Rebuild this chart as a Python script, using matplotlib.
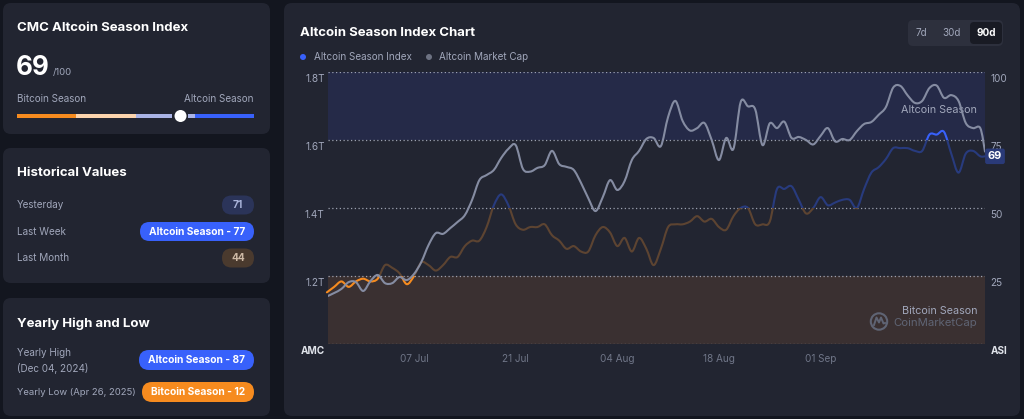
import numpy as np
import pandas as pd
import matplotlib
matplotlib.use("Agg")
import matplotlib.pyplot as plt
import matplotlib.dates as mdates
from matplotlib.patches import FancyBboxPatch, PathPatch, Rectangle, Circle
from matplotlib.path import Path
from matplotlib.transforms import ScaledTranslation, blended_transform_factory

plt.rcParams['font.family'] = ['Inter', 'DejaVu Sans']

# -----------------------------
# Data
# -----------------------------
dates = list(pd.date_range("2025-06-25", "2025-09-23", freq="D")) + [pd.Timestamp("2025-09-23 15:36")]

# Altcoin Season Index (0-100)
asi = [19, 21, 23, 21, 23, 24, 23, 24, 29, 28,
       26, 22, 25, 30, 29, 27, 29, 32, 32, 36,
       38, 38, 43, 51, 55, 51, 44, 42, 43, 43,
       44, 40, 38, 35, 36, 34, 34, 40, 43, 41,
       36, 39, 34, 39, 35, 29, 35, 43, 44, 44,
       45, 47, 45, 46, 43, 42, 47, 50, 50, 44,
       44, 45, 57, 57, 58, 53, 48, 50, 54, 51,
       52, 53, 53, 50, 57, 63, 65, 68, 72, 72,
       72, 71, 71, 77, 77, 78, 70, 63, 70, 71,
       69, 69]

# Altcoin market cap (trillion USD)
amc = [1.140, 1.150, 1.162, 1.182, 1.182, 1.156, 1.185, 1.203, 1.179, 1.179,
       1.197, 1.188, 1.206, 1.241, 1.291, 1.326, 1.324, 1.341, 1.359, 1.379,
       1.424, 1.482, 1.497, 1.512, 1.547, 1.574, 1.585, 1.515, 1.507, 1.518,
       1.526, 1.568, 1.529, 1.521, 1.512, 1.474, 1.429, 1.391, 1.432, 1.482,
       1.453, 1.479, 1.541, 1.568, 1.603, 1.606, 1.582, 1.668, 1.715, 1.656,
       1.628, 1.635, 1.650, 1.600, 1.541, 1.606, 1.574, 1.712, 1.699, 1.690,
       1.585, 1.649, 1.635, 1.654, 1.606, 1.609, 1.600, 1.587, 1.612, 1.635,
       1.596, 1.603, 1.600, 1.626, 1.647, 1.653, 1.674, 1.697, 1.754, 1.759,
       1.731, 1.709, 1.715, 1.753, 1.760, 1.724, 1.732, 1.715, 1.650, 1.635,
       1.635, 1.566]

tick_dates = ["2025-07-07", "2025-07-21", "2025-08-04", "2025-08-18", "2025-09-01"]
tick_labels = ["07 Jul", "21 Jul", "04 Aug", "18 Aug", "01 Sep"]

current = 69
history_labels = ["Yesterday", "Last Week", "Last Month"]
history_values = [71, 77, 44]
yearly_high = 87
yearly_low = 12

# -----------------------------
# Colours
# -----------------------------
BG = "#13161f"
CARD = "#222531"
WHITE = "#ffffff"
GRAY = "#a1a7bb"
GRAY_DIM = "#6f7587"
ORANGE = "#f68b1f"
BLUE = "#3861fb"
BAND_BLUE = "#252a48"
BAND_BROWN = "#3a3031"
LINE_BROWN = "#5d4431"
LINE_NAVY = "#283b7e"
LINE_GRAY = "#858ca2"


def fs(px):
    # pixel size -> points at 100 dpi
    return px * 0.72


def smooth_path(x, y):
    # catmull-rom through the data points, drawn as bezier curves
    pts = np.column_stack([x, y])
    ext = np.vstack([pts[0], pts, pts[-1]])
    verts = [pts[0]]
    codes = [Path.MOVETO]
    for i in range(len(pts) - 1):
        p0, p1, p2, p3 = ext[i], ext[i + 1], ext[i + 2], ext[i + 3]
        verts += [p1 + (p2 - p0) / 6, p2 - (p3 - p1) / 6, p2]
        codes += [Path.CURVE4] * 3
    return Path(verts, codes)


fig = plt.figure(figsize=(10.24, 4.19), dpi=100)
fig.patch.set_facecolor(BG)

bg = fig.add_axes([0, 0, 1, 1])
bg.set_xlim(0, 1024)
bg.set_ylim(419, 0)
bg.axis("off")


def card(x0, y0, x1, y1):
    bg.add_patch(FancyBboxPatch((x0, y0), x1 - x0, y1 - y0,
                                boxstyle="round,pad=0,rounding_size=8",
                                fc=CARD, ec="none"))


def pill(x0, x1, yc, h, fc, text, tc):
    bg.add_patch(FancyBboxPatch((x0, yc - h / 2), x1 - x0, h,
                                boxstyle=f"round,pad=0,rounding_size={h / 2}",
                                fc=fc, ec="none"))
    bg.text((x0 + x1) / 2, yc, text, color=tc, fontsize=fs(10.2),
            fontweight="bold", ha="center", va="center")


def label_for(v):
    if v >= 75:
        return BLUE, f"Altcoin Season - {v}", WHITE
    if v <= 25:
        return ORANGE, f"Bitcoin Season - {v}", WHITE
    if v >= 50:
        return "#2b3459", str(v), "#a9b3da"
    return "#4a3a2e", str(v), "#cdb9a5"


BODY = fs(9.9)

# cards
card(3, 3, 270, 134)
card(3, 148, 270, 283)
card(3, 298, 270, 416)
card(284, 3, 1020, 416)

# --- card 1: current index
bg.text(17, 28, "CMC Altcoin Season Index", color=WHITE, fontsize=fs(13.2),
        fontweight="bold", va="center")
bg.text(16, 68, str(current), color=WHITE, fontsize=fs(26), fontweight="bold", va="center")
bg.text(53, 73, "/100", color=GRAY, fontsize=fs(9.5), va="center")
bg.text(17, 99, "Bitcoin Season", color=GRAY, fontsize=BODY, va="center")
bg.text(254, 99, "Altcoin Season", color=GRAY, fontsize=BODY, va="center", ha="right")


def bar_x(v):
    return 17 + v / 100 * 237


segments = [(0, 25, ORANGE), (25, 50, "#fcd4ad"), (50, current - 3.5, "#aab4e6"),
            (current + 3.3, 75, "#aab4e6"), (75, 100, BLUE)]
for a, b, c in segments:
    bg.plot([bar_x(a), bar_x(b)], [116, 116], color=c, lw=fs(4), solid_capstyle="butt")
bg.add_patch(Circle((bar_x(current), 116), 6, fc=WHITE, ec="none", zorder=5))

# --- card 2: historical values
bg.text(17, 173, "Historical Values", color=WHITE, fontsize=fs(13.2),
        fontweight="bold", va="center")
for i, (lab, v) in enumerate(zip(history_labels, history_values)):
    yc = 205 + i * 26.5
    bg.text(17, yc, lab, color=GRAY, fontsize=BODY, va="center")
    fc, txt, tc = label_for(v)
    w = 32 if len(txt) < 4 else 114
    pill(254 - w, 254, yc, 19, fc, txt, tc)

# --- card 3: yearly high / low
bg.text(17, 324, "Yearly High and Low", color=WHITE, fontsize=fs(13.2),
        fontweight="bold", va="center")
bg.text(17, 353, "Yearly High", color=GRAY, fontsize=BODY, va="center")
bg.text(17, 368, "(Dec 04, 2024)", color=GRAY, fontsize=BODY, va="center")
fc, txt, tc = label_for(yearly_high)
pill(139, 254, 360, 20, fc, txt, tc)
bg.text(17, 392, "Yearly Low (Apr 26, 2025)", color=GRAY, fontsize=fs(9.5), va="center")
fc, txt, tc = label_for(yearly_low)
pill(142, 254, 392, 20, fc, txt, tc)

# --- main card header
bg.text(300, 33, "Altcoin Season Index Chart", color=WHITE, fontsize=fs(13.2),
        fontweight="bold", va="center")
bg.add_patch(Circle((303, 57), 3, fc=BLUE, ec="none"))
bg.text(314, 57, "Altcoin Season Index", color=GRAY, fontsize=BODY, va="center")
bg.add_patch(Circle((429, 57), 3, fc="#6d7282", ec="none"))
bg.text(439, 57, "Altcoin Market Cap", color=GRAY, fontsize=BODY, va="center")

bg.add_patch(FancyBboxPatch((908, 20), 95, 26, boxstyle="round,pad=0,rounding_size=5",
                            fc="#2d303d", ec="none"))
bg.add_patch(FancyBboxPatch((970, 22), 32, 22, boxstyle="round,pad=0,rounding_size=4",
                            fc="#191b24", ec="none"))
bg.text(921, 33, "7d", color=GRAY, fontsize=BODY, ha="center", va="center")
bg.text(952, 33, "30d", color=GRAY, fontsize=BODY, ha="center", va="center")
bg.text(986, 33, "90d", color=WHITE, fontsize=BODY, fontweight="bold",
        ha="center", va="center")

# -----------------------------
# Plot area
# -----------------------------
ax = fig.add_axes([328 / 1024, 1 - 344 / 419, 657 / 1024, 272 / 419])
ax.patch.set_visible(False)
ax2 = ax.twinx()
ax2.patch.set_visible(False)

xn = mdates.date2num(pd.to_datetime(dates).to_pydatetime())
x_left = xn[0] + 0.15
x_right = xn[-1]

ax.axhspan(75, 100, color=BAND_BLUE, lw=0, zorder=0)
ax.axhspan(0, 25, color=BAND_BROWN, lw=0, zorder=0)
for g in [0, 25, 50, 75, 100]:
    ax.axhline(g, color="#9ca1b0", lw=0.9, ls=(0, (1, 2)), zorder=1)

# ASI line, coloured by zone
asi_path = smooth_path(xn, np.array(asi, float))
zones = [(-50, 25, ORANGE), (25, 50, LINE_BROWN), (50, 75, LINE_NAVY), (75, 200, BLUE)]
for lo, hi, c in zones:
    pp = PathPatch(asi_path, fill=False, ec=c, lw=1.5, zorder=3, transform=ax.transData,
                   capstyle="round", joinstyle="round")
    ax.add_patch(pp)
    clip = Rectangle((x_left - 5, lo), x_right - x_left + 10, hi - lo, transform=ax.transData)
    pp.set_clip_path(clip)

# Market cap line
amc_path = smooth_path(xn, np.array(amc, float))
ax2.add_patch(PathPatch(amc_path, fill=False, ec=LINE_GRAY, lw=1.5, zorder=3,
                        capstyle="round", joinstyle="round"))

ax.set_xlim(x_left, x_right)
ax.set_ylim(0, 100)
ax2.set_ylim(1.0, 1.8)

for a in (ax, ax2):
    for s in a.spines.values():
        s.set_visible(False)

# x ticks
ax.set_xticks(mdates.date2num(pd.to_datetime(tick_dates).to_pydatetime()))
ax.set_xticklabels(tick_labels)
ax.tick_params(axis="x", length=0, pad=7, colors=GRAY_DIM, labelsize=fs(10))

# right axis (ASI)
ax.yaxis.set_ticks_position("right")
ax.set_yticks([0, 25, 50, 75, 100])
rlabels = ax.set_yticklabels(["ASI", "25", "50", "75", "100"])
ax.tick_params(axis="y", length=0, pad=4, colors=GRAY, labelsize=fs(10))
rlabels[0].set_fontweight("bold")
rlabels[0].set_color("#e0e3ea")

# left axis (AMC)
ax2.yaxis.set_ticks_position("left")
ax2.set_yticks([1.0, 1.2, 1.4, 1.6, 1.8])
llabels = ax2.set_yticklabels(["AMC", "1.2T", "1.4T", "1.6T", "1.8T"])
ax2.tick_params(axis="y", length=0, pad=2.5, colors=GRAY, labelsize=fs(10))
llabels[0].set_fontweight("bold")
llabels[0].set_color("#e0e3ea")

shift = ScaledTranslation(0, -6 / 100, fig.dpi_scale_trans)
for lab in list(rlabels) + list(llabels):
    lab.set_transform(lab.get_transform() + shift)

# zone captions
tr = blended_transform_factory(ax.transAxes, ax.transData)
ax.text(0.988, 86.0, "Altcoin Season", transform=tr,
        color=GRAY, fontsize=fs(10.8), ha="right", va="center", zorder=4)
ax.text(0.988, 12.3, "Bitcoin Season", transform=tr,
        color=GRAY, fontsize=fs(10.8), ha="right", va="center", zorder=4)
ax.text(0.988, 7.6, "CoinMarketCap", transform=tr,
        color="#5f6474", fontsize=fs(11.4), ha="right", va="center", zorder=4)

# current value badge
ax2.text(1.0152, (current / 100) * 0.8 + 1.0, str(current),
         transform=blended_transform_factory(ax2.transAxes, ax2.transData),
         color=WHITE, fontsize=fs(11), fontweight="bold", ha="center", va="center", zorder=6,
         bbox=dict(boxstyle="round,pad=0.25,rounding_size=0.2", fc="#2a3a78", ec="none"))

# logo overlay
top = fig.add_axes([0, 0, 1, 1], zorder=10)
top.set_xlim(0, 1024)
top.set_ylim(419, 0)
top.axis("off")
top.patch.set_visible(False)
top.add_patch(Circle((879, 321.5), 8.2, fc="none", ec="#5f6474", lw=1.5))
top.plot([874, 876.5, 879, 881, 883.5, 885], [325, 317.5, 322.5, 317.5, 323.5, 323],
         color="#5f6474", lw=1.4, solid_joinstyle="round")

fig.savefig("out.png", dpi=100, facecolor=BG)
